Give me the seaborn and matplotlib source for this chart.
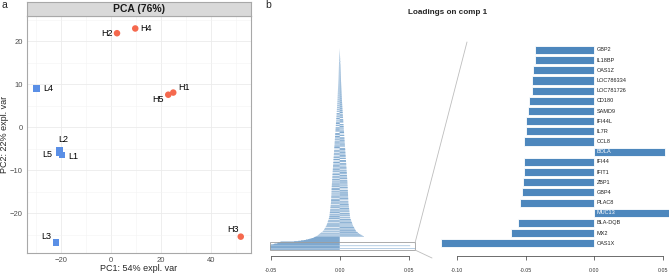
import numpy as np
import pandas as pd
import matplotlib
matplotlib.use('Agg')
import matplotlib.pyplot as plt
import seaborn as sns
from matplotlib.lines import Line2D
from matplotlib.patches import Rectangle

# --- panel a: PCA scores ---
samples = ['H1', 'H2', 'H3', 'H4', 'H5', 'L1', 'L2', 'L3', 'L4', 'L5']
groups = ['H', 'H', 'H', 'H', 'H', 'L', 'L', 'L', 'L', 'L']
pc1 = [24.9, 2.4, 51.9, 9.7, 22.9, -19.6, -20.6, -22.0, -29.7, -20.8]
pc2 = [8.1, 21.9, -25.4, 23.0, 7.6, -6.4, -5.3, -26.7, 9.1, -5.8]

# --- panel b: loadings on comp 1 (all variables, sorted by |loading|), units of 1e-5 ---
rest_e5 = [
    0, 1, -1, 2, -3, 4, -5, 6, 7, -8, 10, -11, 12, -13, 15, 16, -17, 19, -20, 21,
    -23, 24, 26, -27, 29, -30, 32, 33, -35, 36, -38, 40, -41, 43, 44, -46, 47, -48, 50, -51,
    52, -53, 54, -55, 56, 57, -58, 59, -60, 61, 62, -63, 64, -65, 66, 67, -68, 69, -70, 71,
    -72, 73, 74, -75, 76, -77, 78, 79, -80, 81, -82, 83, 84, -85, 86, -87, 88, 89, -90, 91,
    -93, 94, 96, -97, 99, -100, 101, 103, -104, 106, -107, 108, 110, -111, 113, -114, 116, 117, -118, 120,
    -121, 123, 124, -126, 127, -128, 130, 131, -133, 134, 136, -137, 138, -140, 141, 143, -144, 145, -147, 148,
    150, -151, 152, -154, 155, 157, -158, 159, -161, 162, 164, -165, 167, -169, 171, 172, -174, 176, -178, 179,
    181, -183, 184, -186, 188, 190, -191, 193, -195, 197, 198, -200, 202, -203, 205, 207, -209, 210, -212, 214,
    216, 218, -220, -222, -224, 226, 228, 230, -232, 234, -236, -238, 240, 242, -244, -246, -248, 250, 252, -254,
    256, 258, 260, -262, -264, 266, -268, -270, -272, 274, 276, -278, -280, 282, 284, 286, -288, 290, -292, -294,
    296, 298, -300, -302, -304, 306, 308, -310, 312, 314, 316, -318, -320, 322, -324, -326, 328, 330, -332, -334,
    -336, -338, 340, 342, 344, -346, 348, -350, -352, 354, 356, 358, -360, -362, 364, -366, -368, 370, 372, -374,
    376, 378, -380, -382, 384, -386, -388, -390, 392, 394, -396, 398, 400, 402, -404, -406, 408, -410, 412, 414,
    -416, -418, 420, 422, -424, -426, 428, 430, 432, -434, 436, -438, -440, 442, 444, -446, -448, -450, 452, 454,
    -456, 458, 460, -462, -464, -466, 468, 470, -472, 474, 476, -478, -480, 482, -484, -486, 488, 490, 492, -494,
    -496, -498, 500, 502, -504, 506, -508, -510, 512, 514, 515, -517, 519, -521, -523, 525, 527, -528, -530, 532,
    534, -536, -537, 539, 541, -543, -545, 546, 548, -550, -552, 554, 555, -557, 559, 561, -563, -564, 566, -568,
    -570, 572, 573, -575, -577, 578, 580, -581, -583, 584, -585, -587, 588, 590, -591, 592, -594, -595, 597, 598,
    599, -601, -602, 603, 605, -606, 607, 609, -610, -611, 613, -614, 615, 617, -618, -619, 621, -622, -623, 625,
    -626, 627, 629, -630, -634, 637, -641, 644, 648, -651, 655, -658, -661, 665, 668, -672, -675, 678, 682, -685,
    689, -692, -695, 699, 702, -706, 709, -712, -716, 719, 723, -726, 730, -733, -736, 740, 743, -747, -750, 754,
    -760, 770, -780, -790, 800, 810, -820, 830, -840, 850, -860, -870, 880, 890, -900, 910, -920, 930, -940, -950,
    965, -980, 1000, -1015, 1030, 1050, -1065, 1080, -1100, 1115, -1130, 1150, 1170, -1185, 1200, -1240, 1280, 1320, -1360, 1400,
    -1440, 1480, -1520, 1560, -1600, 1650, -1700, 1750, -1800, -1850, -1900, -2000, -2100, -2200, -2300, -2450, -2600, -2800, -3000, -3300,
]

genes = ['GBP2', 'IL18BP', 'OAS1Z', 'LOC786334', 'LOC781726', 'CD180', 'SAMD9', 'IFI44L',
         'IL7R', 'CCL8', 'BOLA', 'IFI44', 'IFIT1', 'ZBP1', 'GBP4', 'PLAC8', 'MUC13',
         'BLA-DQB', 'MX2', 'OAS1X']
gene_load = [-0.0429, -0.0434, -0.0449, -0.0451, -0.0452, -0.0473, -0.0480, -0.0497,
             -0.0500, -0.0510, 0.0511, -0.0512, -0.0514, -0.0519, -0.0524, -0.0544, 0.0550,
             -0.0558, -0.0604, -0.1116]

W, H = 669, 274

def px_axes(x0, y0, x1, y1):
    return [x0 / W, 1 - y1 / H, (x1 - x0) / W, (y1 - y0) / H]

sns.set_theme(style='white')
plt.rcParams['font.family'] = ['Liberation Sans', 'DejaVu Sans']

fig = plt.figure(figsize=(W / 100, H / 100), dpi=100)

# ---------- panel a ----------
red = '#F5694E'
blue = '#5A8FE6'
df = pd.DataFrame({'sample': samples, 'group': groups, 'PC1': pc1, 'PC2': pc2})

ax = fig.add_axes(px_axes(27, 16, 251, 253))
sns.scatterplot(data=df, x='PC1', y='PC2', hue='group', style='group',
                palette={'H': red, 'L': blue}, markers={'H': 'o', 'L': 's'},
                s=22, linewidth=0, legend=False, ax=ax, zorder=3)
ax.set_xlim(-33.6, 56)
ax.set_ylim(-29.2, 25.9)
ax.set_xticks([-20, 0, 20, 40])
ax.set_yticks([-20, -10, 0, 10, 20])
ax.set_xticks([-30, -10, 10, 30, 50], minor=True)
ax.set_yticks([-25, -15, -5, 5, 15, 25], minor=True)
ax.grid(which='major', color='#EBEBEB', lw=0.6)
ax.grid(which='minor', color='#F3F3F3', lw=0.4)
ax.set_axisbelow(True)
for sp in ax.spines.values():
    sp.set_color('#A8A8A8')
    sp.set_linewidth(0.8)
ax.tick_params(which='major', length=2, width=0.5, color='#555555',
               labelsize=5.5, labelcolor='#4D4D4D', pad=1)
ax.tick_params(which='minor', length=0)
ax.set_xlabel('PC1: 54% expl. var', fontsize=6.5, labelpad=0)
ax.set_ylabel('PC2: 22% expl. var', fontsize=6.5, labelpad=1)

offsets = {'H1': (11, 4.6), 'H2': (-10, 0), 'H3': (-7.4, 6.7), 'H4': (10.7, 0),
           'H5': (-10, -4.6), 'L1': (11, -2), 'L2': (3.8, 10.8), 'L3': (-10, 5.3),
           'L4': (12, -0.4), 'L5': (-12, -2.6)}
for s, x, y in zip(samples, pc1, pc2):
    ax.annotate(s, (x, y), xytext=offsets[s], textcoords='offset pixels',
                ha='center', va='center', fontsize=6.5, color='black')

strip = fig.add_axes(px_axes(27, 2, 251, 16))
strip.set_facecolor('#D9D9D9')
strip.set_xticks([])
strip.set_yticks([])
for sp in strip.spines.values():
    sp.set_color('#A8A8A8')
    sp.set_linewidth(0.8)
strip.text(0.5, 0.5, 'PCA (76%)', ha='center', va='center', fontsize=7.5,
           fontweight='bold', color='#1A1A1A', transform=strip.transAxes)

fig.text(1 / W, 1 - 0.5 / H, 'a', fontsize=7.5, va='top', ha='left')
fig.text(265 / W, 1 - 0.5 / H, 'b', fontsize=7.5, va='top', ha='left')
fig.text(448 / W, 1 - 13 / H, 'Loadings on comp 1', fontsize=5.9,
         fontweight='bold', ha='center', va='center')

# ---------- panel b: all loadings ----------
bar_blue = '#3A88D0'
all_load = np.concatenate([np.array(rest_e5) / 1e5, np.array(gene_load)])
n = len(all_load)

axL = fig.add_axes(px_axes(270, 40, 420, 251))
axL.patch.set_alpha(0)
sns.barplot(x=all_load, y=np.arange(n), orient='h', color=bar_blue, width=1.0,
            linewidth=0, errorbar=None, ax=axL)
for p in axL.patches:
    p.set_snap(False)
axL.set_xlim(-0.0505, 0.0582)
axL.set_ylim(502.7, -19.8)
axL.add_patch(Rectangle((-0.0505, 479.3), 0.0505 + 0.0546, 500.2 - 479.3,
                        fill=False, edgecolor='#9E9E9E', lw=0.6, clip_on=False, zorder=4))

# ---------- panel b: top 20 ----------
axR = fig.add_axes(px_axes(438, 40, 669, 251))
axR.patch.set_alpha(0)
sns.barplot(x=gene_load, y=genes, order=genes, orient='h', color=bar_blue, width=0.8,
            edgecolor='white', linewidth=0.6, errorbar=None, ax=axR)
axR.set_xlim(-0.1138, 0.0542)
axR.set_ylim(19.76, -0.98)
for i, (g, v) in enumerate(zip(genes, gene_load)):
    axR.text(0.0018, i, g, fontsize=4, va='center', ha='left',
             color='white' if v > 0 else '#222222')

for a, ticks, labels in [(axL, [-0.05, 0, 0.05], ['-0.05', '0.00', '0.05']),
                         (axR, [-0.10, -0.05, 0, 0.05], ['-0.10', '-0.05', '0.00', '0.05'])]:
    for k in ['top', 'left', 'right']:
        a.spines[k].set_visible(False)
    a.spines['bottom'].set_position(('outward', 3.4))
    a.spines['bottom'].set_bounds(ticks[0], ticks[-1])
    a.spines['bottom'].set_color('#333333')
    a.spines['bottom'].set_linewidth(0.5)
    a.set_xticks(ticks)
    a.set_xticklabels(labels)
    a.set_yticks([])
    a.set_xlabel('')
    a.set_ylabel('')
    a.tick_params(axis='x', length=3.2, width=0.5, color='#333333',
                  labelsize=3.8, labelcolor='#333333', pad=5.5, bottom=True)

# zoom connector lines
fig.add_artist(Line2D([415 / W, 467 / W], [1 - 243 / H, 1 - 42 / H],
                      transform=fig.transFigure, color='#BDBDBD', lw=0.6))
fig.add_artist(Line2D([415 / W, 432 / W], [1 - 250 / H, 1 - 258 / H],
                      transform=fig.transFigure, color='#BDBDBD', lw=0.6))

fig.savefig('out.png', dpi=100)
